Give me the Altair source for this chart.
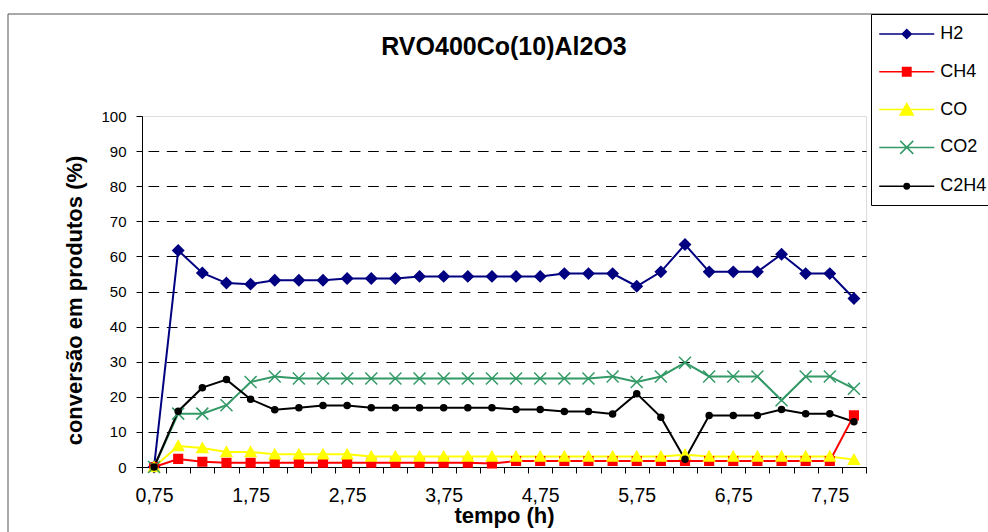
import altair as alt
import pandas as pd

# ---------------- data ----------------
series_names = ["H2", "CH4", "CO", "CO2", "C2H4"]

time_h = [0.75, 1.00, 1.25, 1.50, 1.75, 2.00, 2.25, 2.50, 2.75, 3.00,
          3.25, 3.50, 3.75, 4.00, 4.25, 4.50, 4.75, 5.00, 5.25, 5.50,
          5.75, 6.00, 6.25, 6.50, 6.75, 7.00, 7.25, 7.50, 7.75, 8.00]

h2 = [0.0, 61.7, 55.3, 52.4, 52.1, 53.2, 53.2, 53.2, 53.7, 53.7,
      53.7, 54.3, 54.3, 54.3, 54.3, 54.3, 54.3, 55.1, 55.1, 55.1,
      51.5, 55.6, 63.4, 55.6, 55.6, 55.6, 60.6, 55.1, 55.1, 48.0]

ch4 = [0.0, 2.3, 1.5, 1.2, 1.2, 1.2, 1.2, 1.2, 1.2, 1.2,
       1.2, 1.2, 1.2, 1.2, 1.0, 1.7, 1.7, 1.7, 1.7, 1.7,
       1.7, 1.7, 1.7, 1.7, 1.7, 1.7, 1.7, 1.7, 1.7, 14.7]

co = [0.0, 6.0, 5.4, 4.3, 4.3, 3.6, 3.6, 3.6, 3.6, 3.0,
      3.0, 3.0, 3.0, 3.0, 3.0, 3.0, 3.0, 3.0, 3.0, 3.0,
      3.0, 3.0, 3.5, 3.0, 3.0, 3.0, 3.0, 3.0, 3.0, 2.1]

co2 = [0.0, 15.2, 15.2, 17.6, 24.2, 25.8, 25.2, 25.2, 25.2, 25.2,
       25.2, 25.2, 25.2, 25.2, 25.2, 25.2, 25.2, 25.2, 25.2, 25.8,
       24.2, 25.8, 29.7, 25.8, 25.8, 25.8, 19.0, 25.8, 25.8, 22.3]

c2h4 = [0.0, 15.9, 22.6, 24.9, 19.3, 16.3, 16.9, 17.5, 17.5, 16.9,
        16.9, 16.9, 16.9, 16.9, 16.9, 16.4, 16.4, 15.8, 15.8, 15.1,
        20.9, 14.2, 2.2, 14.7, 14.7, 14.7, 16.4, 15.2, 15.2, 12.9]

y_ticks = [0, 10, 20, 30, 40, 50, 60, 70, 80, 90, 100]

# ---------------- styling ----------------
FONT = "Liberation Sans"
W, H = 724, 351
colors = ["#000080", "#FF0000", "#FFFF00", "#339966", "#000000"]

point_paths = [
    "M0,-0.9L0.9,0L0,0.9L-0.9,0Z",
    "M-0.72,-0.72H0.72V0.72H-0.72Z",
    "M0,-0.85L0.9,0.75L-0.9,0.75Z",
    "M-1,-1L1,1M1,-1L-1,1",
    "M-0.5,0A0.5,0.5 0 1,0 0.5,0A0.5,0.5 0 1,0 -0.5,0Z",
]
LINE = "M-2.75,0H2.75"
legend_paths = [
    LINE + "M0,-0.45L0.45,0L0,0.45L-0.45,0Z",
    LINE + "M-0.42,-0.42H0.42V0.42H-0.42Z",
    LINE + "M0,-0.6L0.65,0.55L-0.65,0.55Z",
    LINE + "M-0.65,-0.65L0.65,0.65M0.65,-0.65L-0.65,0.65",
    LINE + "M-0.27,0A0.27,0.27 0 1,0 0.27,0A0.27,0.27 0 1,0 -0.27,0Z",
]

rows = []
for name, vals in zip(series_names, [h2, ch4, co, co2, c2h4]):
    for t, v in zip(time_h, vals):
        rows.append({"tempo": t, "valor": v, "serie": name})
df = pd.DataFrame(rows)

step = time_h[1] - time_h[0]
x_bounds = [t - step / 2 for t in time_h] + [time_h[-1] + step / 2]
half_px = W * (step / 2) / (x_bounds[-1] - x_bounds[0])

x_enc = alt.X(
    "tempo:Q",
    scale=alt.Scale(domain=[x_bounds[0], x_bounds[-1]], nice=False, zero=False),
    axis=alt.Axis(
        values=x_bounds,
        labelExpr="((datum.value - 0.625) % 1 == 0 && datum.value < 8) ? replace(format(datum.value + 0.125, '.2f'), '.', ',') : ''",
        labelOffset=half_px,
        labelOverlap=False,
        labelFlush=False,
        tickSize=6,
        tickColor="black",
        domainColor="black",
        labelPadding=13,
        labelFontSize=19.5,
        labelFont=FONT,
        labelColor="black",
        grid=False,
        title="tempo (h)",
        titleFont=FONT,
        titleFontSize=22,
        titleFontWeight="bold",
        titleColor="black",
        titlePadding=1,
    ),
)
y_enc = alt.Y(
    "valor:Q",
    scale=alt.Scale(domain=[0, 100], nice=False),
    axis=alt.Axis(
        values=y_ticks,
        labelOverlap=False,
        tickSize=6,
        tickColor="black",
        domainColor="black",
        labelPadding=10,
        labelFontSize=15,
        labelFont=FONT,
        labelColor="black",
        grid=True,
        gridColor="black",
        gridDash=[10.7, 7.6],
        gridDashOffset=12.3,
        gridOpacity={"condition": {"test": "datum.value === 100", "value": 0}, "value": 1},
        title="conversão em produtos (%)",
        titleFont=FONT,
        titleFontSize=22,
        titleFontWeight="bold",
        titleColor="black",
        titlePadding=14,
        titleY=184,
    ),
)

border = alt.Chart(alt.Data(values=[{"a": 1}])).mark_rect(
    fillOpacity=0, stroke="#555555", strokeWidth=1
).encode(
    x=alt.value(-134), x2=alt.value(W + 300),
    y=alt.value(-102), y2=alt.value(H + 300),
)

lines = alt.Chart(df).mark_line(strokeWidth=2).encode(
    x=x_enc,
    y=y_enc,
    stroke=alt.Stroke("serie:N", scale=alt.Scale(domain=series_names, range=colors), legend=None),
    detail="serie:N",
)

points = alt.Chart(df).mark_point(filled=True, size=144, strokeWidth=1.5, opacity=1).encode(
    x=x_enc,
    y=y_enc,
    shape=alt.Shape("serie:N", scale=alt.Scale(domain=series_names, range=point_paths), legend=None),
    fill=alt.Fill("serie:N", scale=alt.Scale(domain=series_names, range=colors), legend=None),
    stroke=alt.Stroke("serie:N", scale=alt.Scale(domain=series_names, range=colors), legend=None),
)

legend_params = dict(
    title=None,
    orient="none",
    legendX=729,
    legendY=-102,
    strokeColor="black",
    fillColor="white",
    padding=9,
    symbolSize=400,
    symbolStrokeWidth=1.5,
    symbolOpacity=1,
    symbolOffset=15.75,
    labelOffset=22.5,
    labelFont=FONT,
    labelFontSize=18,
    labelColor="black",
    labelLimit=300,
    rowPadding=17.8,
)
legend_df = pd.DataFrame({"serie": series_names})
leg = alt.Chart(legend_df).mark_point(filled=True, opacity=0).encode(
    shape=alt.Shape("serie:N", scale=alt.Scale(domain=series_names, range=legend_paths), legend=alt.Legend(**legend_params)),
    fill=alt.Fill("serie:N", scale=alt.Scale(domain=series_names, range=colors), legend=alt.Legend(**legend_params)),
    stroke=alt.Stroke("serie:N", scale=alt.Scale(domain=series_names, range=colors), legend=alt.Legend(**legend_params)),
)

chart = alt.layer(border, lines, points, leg).resolve_scale(
    shape="independent", fill="independent", stroke="independent"
).properties(
    width=W,
    height=H,
    autosize=alt.AutoSizeParams(type="none"),
    padding={"left": 142, "top": 116, "right": 122, "bottom": 65},
    title=alt.TitleParams(
        "RVO400Co(10)Al2O3",
        font=FONT,
        fontSize=25,
        fontWeight="bold",
        color="black",
        anchor="middle",
        frame="group",
        baseline="middle",
        offset=-58,
    ),
).configure_view(stroke=None).configure(background="white")

chart.save("out.html", embed_options={"renderer": "svg", "actions": False})
